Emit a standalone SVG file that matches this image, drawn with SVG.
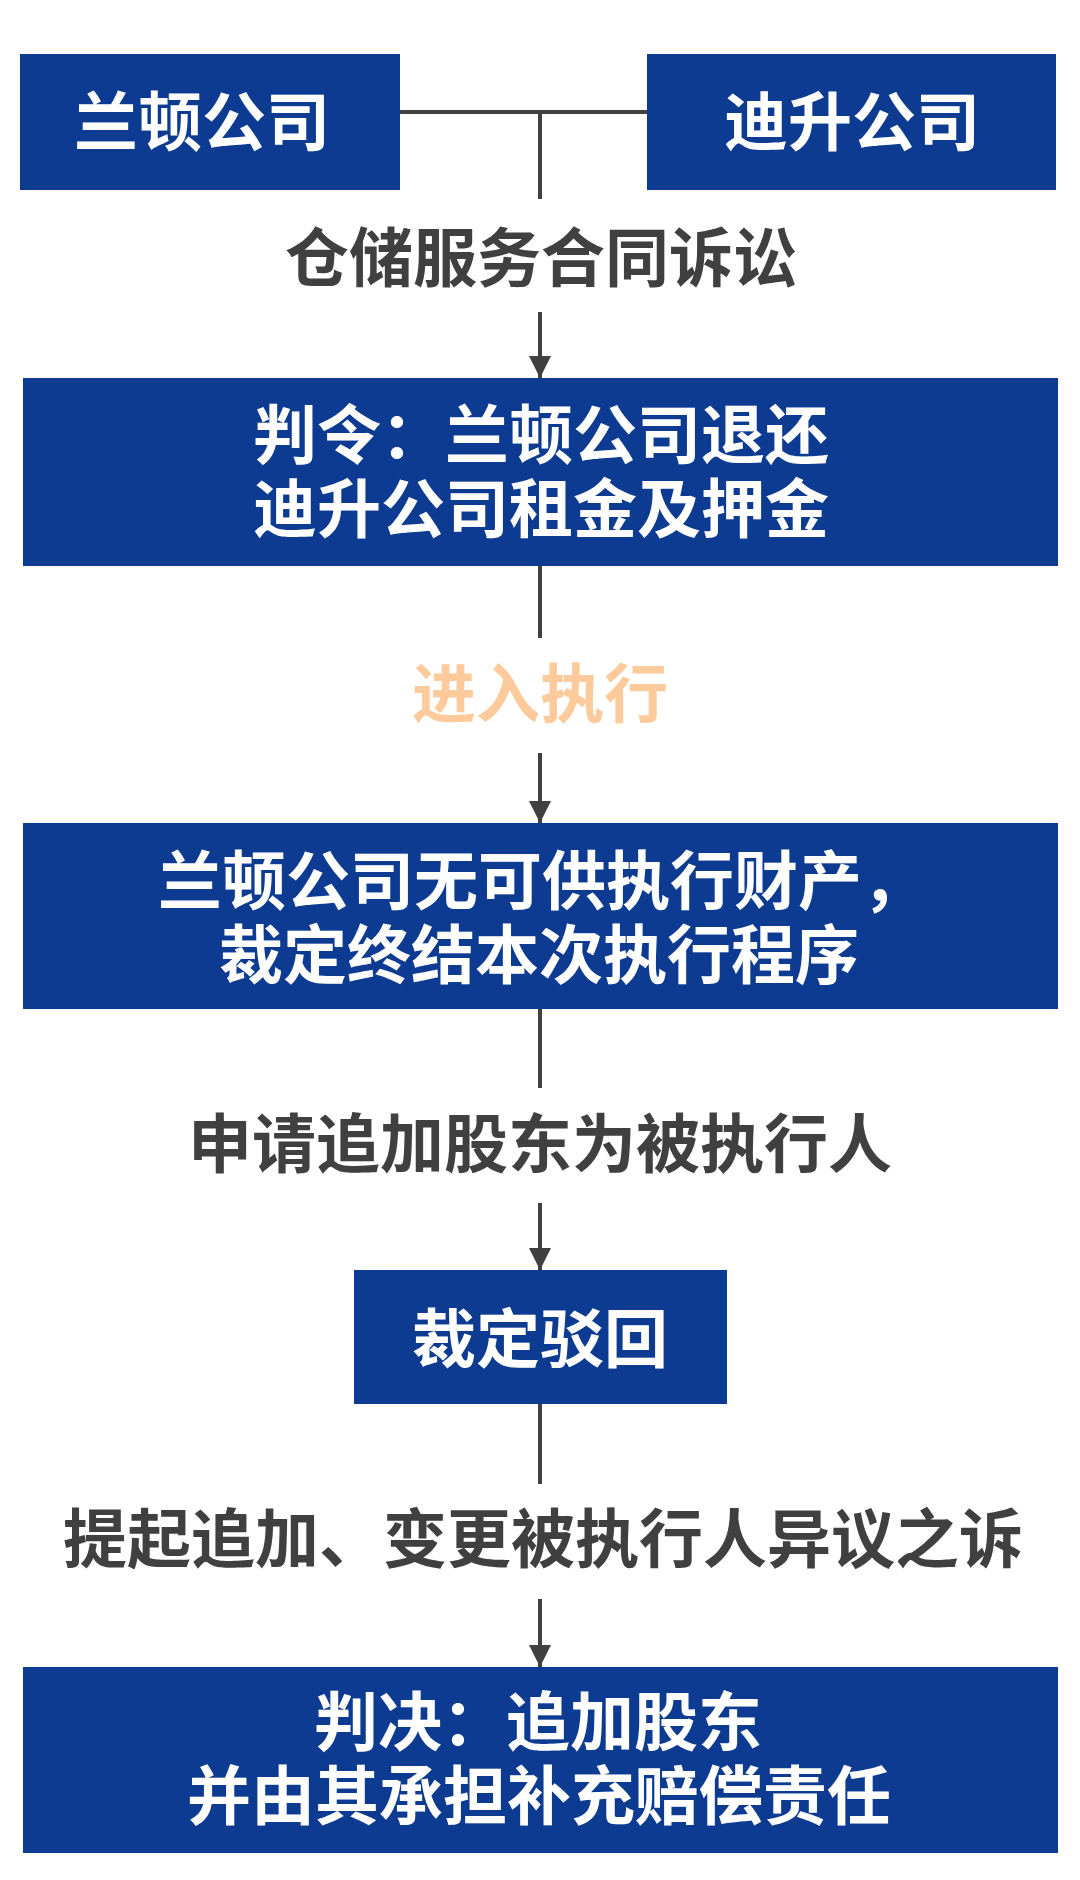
<svg xmlns="http://www.w3.org/2000/svg" width="1080" height="1880" viewBox="0 0 1080 1880">
<style>
.box{fill:#0D3B92}
.wt{fill:#FFFFFF;font-family:"Noto Sans CJK SC","Noto Sans",sans-serif;font-weight:700;font-size:64px;text-anchor:middle}
.lb{fill:#404040;font-family:"Noto Sans CJK SC","Noto Sans",sans-serif;font-weight:700;font-size:64px;text-anchor:middle}
.pe{fill:#FDCB9B}
.ln{stroke:#404040;stroke-width:4;fill:none}
</style>
<defs>
<marker id="ah" markerUnits="userSpaceOnUse" markerWidth="22" markerHeight="22" refX="22" refY="11" orient="auto">
<path d="M0,0 L22,11 L0,22 z" fill="#404040"/>
</marker>
</defs>
<rect width="1080" height="1880" fill="#FFFFFF"/>
<g id="connectors">
<line class="ln" x1="400" y1="112" x2="647" y2="112"/>
<line class="ln" x1="540" y1="112" x2="540" y2="199"/>
<line class="ln" x1="540" y1="312" x2="540" y2="378" marker-end="url(#ah)"/>
<line class="ln" x1="540" y1="566" x2="540" y2="638"/>
<line class="ln" x1="540" y1="753" x2="540" y2="823" marker-end="url(#ah)"/>
<line class="ln" x1="540" y1="1009" x2="540" y2="1088"/>
<line class="ln" x1="540" y1="1203" x2="540" y2="1270" marker-end="url(#ah)"/>
<line class="ln" x1="540" y1="1404" x2="540" y2="1484"/>
<line class="ln" x1="540" y1="1599" x2="540" y2="1667" marker-end="url(#ah)"/>
</g>
<g id="lanton">
<rect class="box" x="20" y="54" width="380" height="136"/>
<text class="wt" x="202" y="145">兰顿公司</text>
</g>
<g id="disheng">
<rect class="box" x="647" y="54" width="409" height="136"/>
<text class="wt" x="852" y="145">迪升公司</text>
</g>
<g id="label-lawsuit">
<text class="lb" x="541" y="281">仓储服务合同诉讼</text>
</g>
<g id="order">
<rect class="box" x="23" y="378" width="1035" height="188"/>
<text class="wt" x="541" y="458">判令：兰顿公司退还</text>
<text class="wt" x="541" y="532">迪升公司租金及押金</text>
</g>
<g id="label-exec">
<text class="lb pe" x="540" y="717">进入执行</text>
</g>
<g id="terminate">
<rect class="box" x="23" y="823" width="1035" height="186"/>
<text class="wt" x="542" y="904">兰顿公司无可供执行财产，</text>
<text class="wt" x="539" y="978">裁定终结本次执行程序</text>
</g>
<g id="label-apply">
<text class="lb" x="540" y="1167">申请追加股东为被执行人</text>
</g>
<g id="reject">
<rect class="box" x="354" y="1270" width="373" height="134"/>
<text class="wt" x="540" y="1362">裁定驳回</text>
</g>
<g id="label-suit">
<text class="lb" x="543" y="1562">提起追加、变更被执行人异议之诉</text>
</g>
<g id="judgment">
<rect class="box" x="23" y="1667" width="1035" height="186"/>
<text class="wt" x="538" y="1745">判决：追加股东</text>
<text class="wt" x="539" y="1819">并由其承担补充赔偿责任</text>
</g>
</svg>
